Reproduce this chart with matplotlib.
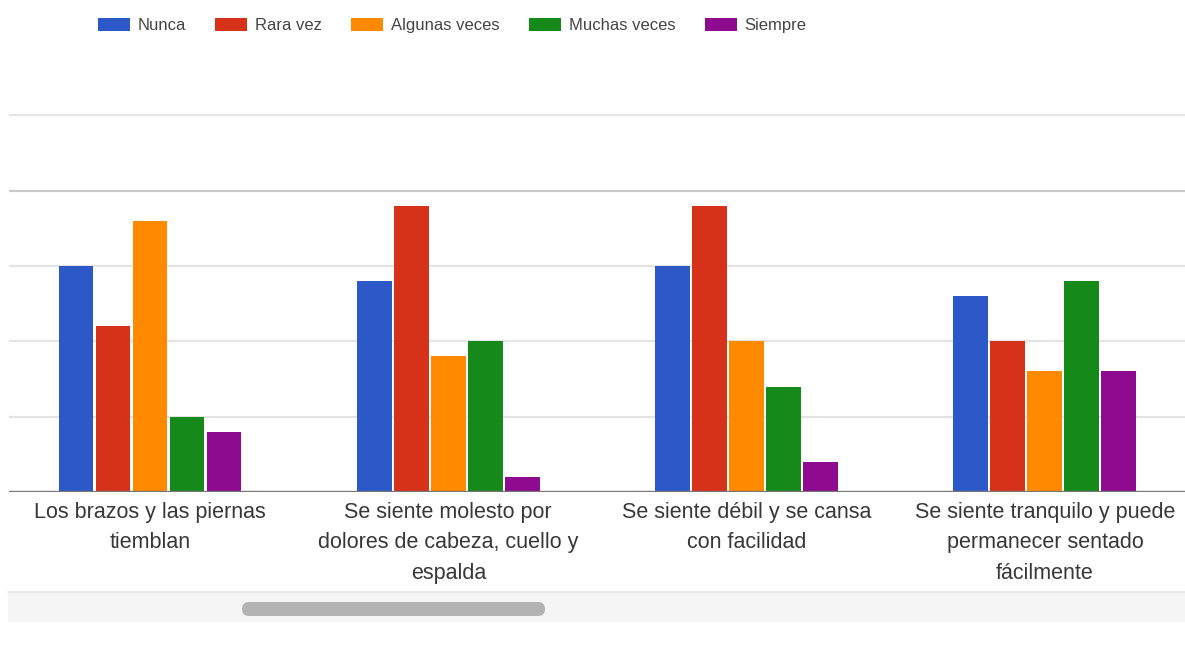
import numpy as np
import matplotlib.pyplot as plt
from matplotlib.patches import Rectangle, FancyBboxPatch

# datos (53 respuestas por pregunta)
preguntas = [
    "Los brazos y las piernas\ntiemblan",
    "Se siente molesto por\ndolores de cabeza, cuello y\nespalda",
    "Se siente débil y se cansa\ncon facilidad",
    "Se siente tranquilo y puede\npermanecer sentado\nfácilmente",
]
series = ["Nunca", "Rara vez", "Algunas veces", "Muchas veces", "Siempre"]
nunca = [15, 14, 15, 13]
rara_vez = [11, 19, 19, 10]
algunas_veces = [18, 9, 10, 8]
muchas_veces = [5, 10, 7, 14]
siempre = [4, 1, 2, 8]
valores = [nunca, rara_vez, algunas_veces, muchas_veces, siempre]
colores = ['#2c58c8', '#d6321a', '#ff8a00', '#15891a', '#8e0a8e']

plt.rcParams['font.family'] = ['Liberation Sans', 'DejaVu Sans']

W, H = 1185, 669
fig = plt.figure(figsize=(W / 100, H / 100), dpi=100)
fig.patch.set_facecolor('white')

# ejes en pixeles: izquierda 9, derecha 1185, base 492, arriba 40
ax = fig.add_axes([9 / W, 1 - 492 / H, (W - 9) / W, (492 - 40) / H])
x = np.arange(len(preguntas))
paso = 0.124
ancho = 0.117
barras = []
for i, (nombre, vals) in enumerate(zip(series, valores)):
    b = ax.bar(x + (i - 2) * paso, vals, width=ancho, color=colores[i],
               label=nombre, zorder=3)
    barras.append(b)

ax.set_xlim(-0.4727, 3.4697)
ax.set_ylim(0, 30)

# lineas de cuadricula estilo Google Forms
for v in [5, 10, 15, 20, 25]:
    c = '#c9c9c9' if v == 20 else '#e4e4e4'
    ax.axhline(v, color=c, lw=1.6, zorder=1)
ax.axhline(0, color='#777777', lw=2.4, zorder=4)

for s in ax.spines.values():
    s.set_visible(False)
ax.set_yticks([])
ax.set_xticks(x)
ax.set_xticklabels(preguntas, fontsize=15.5, color='#383838')
ax.tick_params(axis='x', length=0, pad=7)
for t in ax.get_xticklabels():
    t.set_linespacing(1.6)

# leyenda arriba
fig.legend(handles=barras, labels=series, loc='center left',
           bbox_to_anchor=(98 / W, 1 - 25.5 / H), ncol=5, frameon=False,
           fontsize=12, handlelength=1.92, handleheight=0.84,
           handletextpad=0.48, columnspacing=1.74, borderpad=0,
           borderaxespad=0, labelcolor='#444444')

# barra de desplazamiento
fig.patches.append(Rectangle((8 / W, 1 - 622 / H), (W - 8) / W, 30 / H,
                             transform=fig.transFigure, facecolor='#f5f5f5',
                             edgecolor='none'))
fig.lines.append(plt.Line2D([8 / W, 1], [1 - 592 / H, 1 - 592 / H],
                            transform=fig.transFigure, color='#e6e6e6', lw=1.2))
fig.patches.append(FancyBboxPatch((242 / W, 1 - 616 / H), 303 / W, 14 / H,
                                  boxstyle='round,pad=0,rounding_size=0.0059',
                                  transform=fig.transFigure,
                                  facecolor='#b3b3b3', edgecolor='none',
                                  mutation_aspect=W / H))

fig.savefig('out.png', dpi=100)
